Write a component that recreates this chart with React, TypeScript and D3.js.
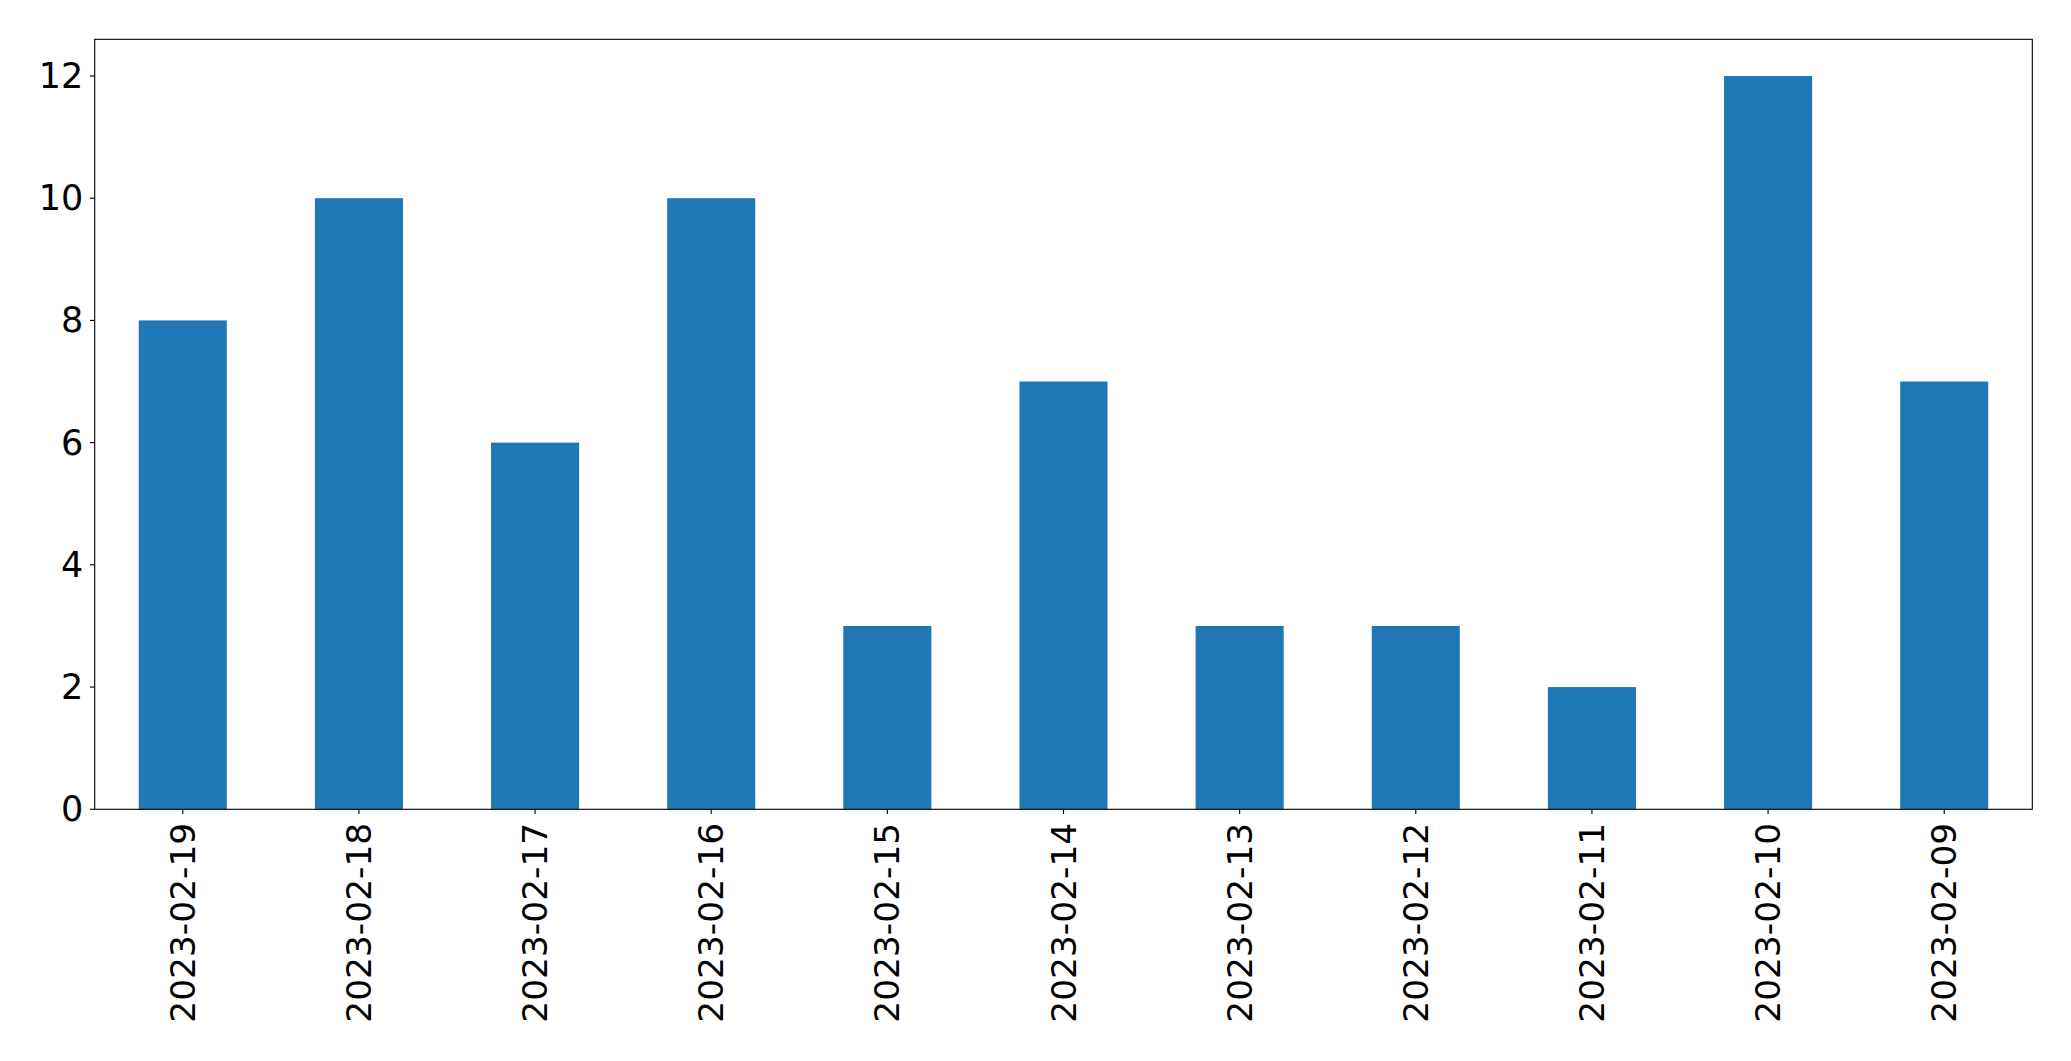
import React from "react";
import * as d3 from "d3";

const categories = ["2023-02-19","2023-02-18","2023-02-17","2023-02-16","2023-02-15","2023-02-14","2023-02-13","2023-02-12","2023-02-11","2023-02-10","2023-02-09"];
const values = [8, 10, 6, 10, 3, 7, 3, 3, 2, 12, 7];
const yTicks = [0, 2, 4, 6, 8, 10, 12];

const W = 2071, H = 1061;
const L = 94.7, R = 2032.3, T = 39.3, B = 809.3;
const FONT = "'DejaVu Sans', sans-serif";

export default function App() {
  const x = d3.scaleLinear().domain([-0.5, categories.length - 0.5]).range([L, R]);
  const y = d3.scaleLinear().domain([0, 12.6]).range([B, T]);
  const bw = x(0.25) - x(-0.25);
  return (
    <svg width={W} height={H} style={{ position: "absolute", left: 0, top: 0, background: "#fff" }}>
      {values.map((v, i) => (
        <rect key={i} x={x(i) - bw / 2} y={y(v)} width={bw} height={y(0) - y(v)} fill="#1f77b4" />
      ))}
      <rect x={L} y={T} width={R - L} height={B - T} fill="none" stroke="#000" strokeWidth={1.1} />
      {yTicks.map((t) => (
        <g key={t}>
          <line x1={L - 4.7} x2={L} y1={y(t)} y2={y(t)} stroke="#000" strokeWidth={1.1} />
          <text x={L - 11.5} y={y(t)} textAnchor="end" dominantBaseline="central" fontFamily={FONT} fontSize={35} fill="#000">{t}</text>
        </g>
      ))}
      {categories.map((c, i) => (
        <g key={c}>
          <line x1={x(i)} x2={x(i)} y1={B} y2={B + 4.7} stroke="#000" strokeWidth={1.1} />
          <text transform={`translate(${x(i)},${B + 13.5}) rotate(-90)`} textAnchor="end" dominantBaseline="central" fontFamily={FONT} fontSize={34.4} fill="#000">{c}</text>
        </g>
      ))}
    </svg>
  );
}
